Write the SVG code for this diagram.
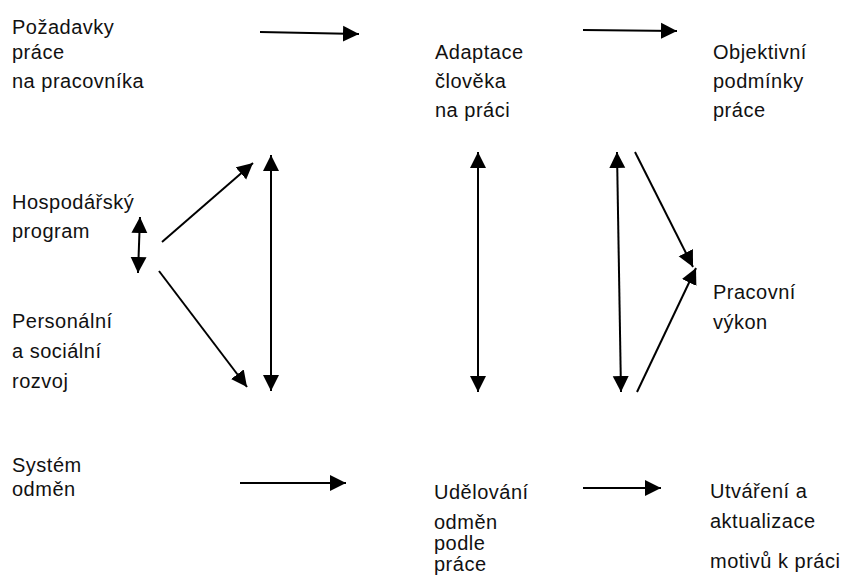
<svg xmlns="http://www.w3.org/2000/svg" width="846" height="580" viewBox="0 0 846 580">
<defs>
<style>
text{font-family:"Liberation Sans",Arial,sans-serif;font-size:20px;letter-spacing:0.5px;fill:#111}
.c line{stroke:#000;stroke-width:2;fill:none}
.e{marker-end:url(#ah)}
.d{marker-start:url(#ah);marker-end:url(#ah)}
</style>
<marker id="ah" markerUnits="userSpaceOnUse" markerWidth="17" markerHeight="17" viewBox="0 0 17 17" refX="16" refY="8.5" orient="auto-start-reverse">
<path d="M0,0.5 L16,8.5 L0,16.5 z" fill="#000"/>
</marker>
</defs>
<rect width="846" height="580" fill="#fff"/>
<g id="pozadavky"><text x="12" y="34">Požadavky</text><text x="12" y="59">práce</text><text x="12" y="88">na pracovníka</text></g>
<g id="adaptace"><text x="435" y="59">Adaptace</text><text x="435" y="88">člověka</text><text x="435" y="117">na práci</text></g>
<g id="objektivni"><text x="713" y="59">Objektivní</text><text x="713" y="88">podmínky</text><text x="713" y="117">práce</text></g>
<g id="hospodarsky"><text x="12" y="209">Hospodářský</text><text x="12" y="238">program</text></g>
<g id="personalni"><text x="12" y="328">Personální</text><text x="12" y="358">a sociální</text><text x="12" y="388">rozvoj</text></g>
<g id="pracovni"><text x="713" y="299">Pracovní</text><text x="713" y="329">výkon</text></g>
<g id="system"><text x="12" y="472">Systém</text><text x="12" y="496">odměn</text></g>
<g id="udelovani"><text x="434" y="499">Udělování</text><text x="434" y="529">odměn</text><text x="434" y="550">podle</text><text x="434" y="571">práce</text></g>
<g id="utvareni"><text x="710" y="498">Utváření a</text><text x="710" y="528">aktualizace</text><text x="710" y="568">motivů k práci</text></g>
<g id="connectors" class="c">
<line class="e" x1="260" y1="32" x2="359" y2="34"/>
<line class="e" x1="583" y1="30" x2="677" y2="31"/>
<line class="d" x1="140" y1="217" x2="138" y2="273"/>
<line class="e" x1="162" y1="242" x2="253" y2="163"/>
<line class="e" x1="159" y1="271" x2="247" y2="387"/>
<line class="d" x1="271" y1="155" x2="271" y2="391"/>
<line class="d" x1="478" y1="152" x2="478" y2="392"/>
<line class="d" x1="617" y1="152" x2="621" y2="392"/>
<line class="e" x1="635" y1="152" x2="693" y2="267"/>
<line class="e" x1="637" y1="392" x2="696" y2="268"/>
<line class="e" x1="240" y1="483" x2="346" y2="483"/>
<line class="e" x1="583" y1="488" x2="661" y2="488"/>
</g>
</svg>
